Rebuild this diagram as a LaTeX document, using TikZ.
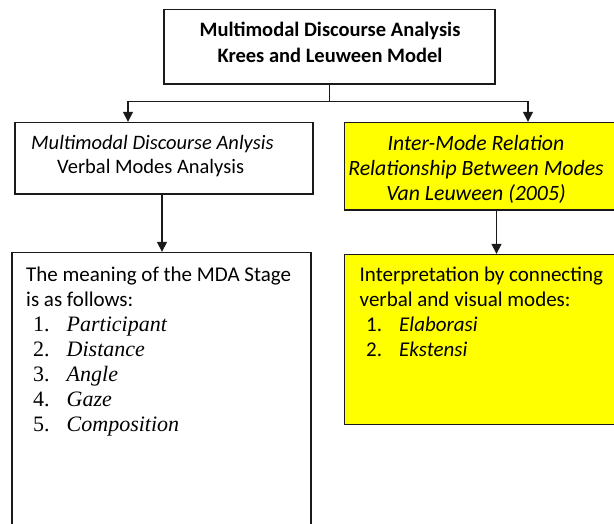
\documentclass[tikz,border=0pt]{standalone}
\usepackage{fontspec}
\setmainfont{Carlito}
\newfontfamily\tnr{Liberation Serif}
\usetikzlibrary{arrows.meta}
\definecolor{boxyellow}{HTML}{FFFF00}
\definecolor{lineblack}{HTML}{1A1A1A}
\tikzset{
  boxw/.style={draw=lineblack, line width=1.3pt, fill=white, inner sep=0pt},
  boxy/.style={draw=lineblack, line width=1.3pt, fill=boxyellow, inner sep=0pt},
  txt/.style={inner sep=0pt, font=\fontsize{21}{25}\selectfont},
  conn/.style={draw=lineblack, line width=1.2pt},
  arr/.style={conn, -{Triangle[length=10pt,width=10pt]}},
}
\newcommand{\litem}[2]{{\tnr\fontsize{22}{25}\selectfont\hspace*{7pt}\makebox[33.5pt][l]{#1}\textit{#2}}}
\newcommand{\ritem}[2]{\hspace*{6.5pt}\makebox[33pt][l]{#1}\textit{#2}}
\begin{document}
\begin{tikzpicture}[x=1pt,y=-1pt]
\useasboundingbox (0,0) rectangle (614,524);
\clip (0,0) rectangle (614,524);
% boxes
\node[boxw, minimum width=331pt, minimum height=74.5pt] (top) at (329.5,46.75) {};
\node[boxw, minimum width=298pt, minimum height=71.5pt] (lb) at (164,158.25) {};
\node[boxy, minimum width=275.5pt, minimum height=87.5pt] (yb) at (482.25,166.25) {};
\node[boxw, minimum width=299pt, minimum height=290pt] (lbb) at (161.5,397.5) {};
\node[boxy, minimum width=275.5pt, minimum height=170pt] (ybb) at (482.25,339.5) {};
% texts
\node[txt, anchor=center, align=center, font=\fontsize{20.5}{26}\selectfont\bfseries] (topt) at (330,42)
  {Multimodal Discourse Analysis\\Krees and Leuween Model};
\node[txt, anchor=base west, align=left, font=\fontsize{20.5}{24}\selectfont] (lbt) at (31,174)
  {\textit{Multimodal Discourse Anlysis}\\\hspace*{26pt}Verbal Modes Analysis};
\node[txt, anchor=north, align=center, font=\fontsize{21.8}{25}\selectfont] (ybt) at (476,135)
  {\textit{Inter-Mode Relation}\\\textit{Relationship Between Modes}\\\textit{Van Leuween (2005)}};
\node[txt, anchor=base west, align=left] (lbbt) at (26,431)
  {The meaning of the MDA Stage\\is as follows:\\
   \litem{1.}{Participant}\\\litem{2.}{Distance}\\\litem{3.}{Angle}\\
   \litem{4.}{Gaze}\\\litem{5.}{Composition}};
\node[txt, anchor=base west, align=left] (ybbt) at (359.5,356)
  {Interpretation by connecting\\verbal and visual modes:\\
   \ritem{1.}{Elaborasi}\\\ritem{2.}{Ekstensi}};
% connectors
\coordinate (j) at ([yshift=-17pt]top.south);
\draw[conn] (top.south) -- (j);
\draw[arr] (j) -| ([xshift=-36pt]lb.north);
\draw[arr] (j) -| ([xshift=45.75pt]yb.north);
\draw[arr] ([xshift=-2pt]lb.south) -- ([xshift=0.5pt]lbb.north);
\draw[arr] ([xshift=14.25pt]yb.south) -- ([xshift=14.25pt]ybb.north);
\end{tikzpicture}
\end{document}
